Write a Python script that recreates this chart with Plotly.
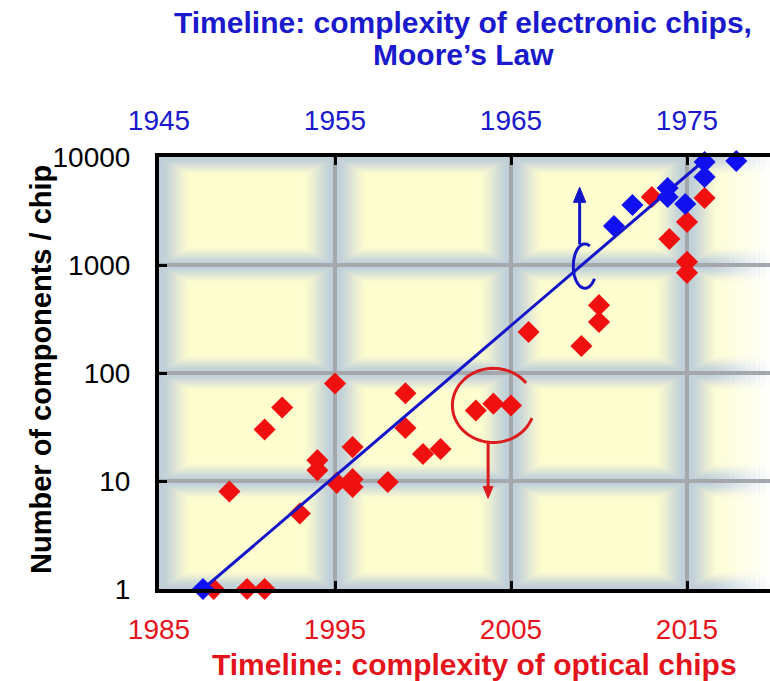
import numpy as np
import plotly.graph_objects as go

# ---------------- data ----------------
# Optical chips (bottom axis, red)
optical_years = [1988.1, 1989.0, 1990.0, 1991.0, 1991.0, 1992.0, 1993.0, 1994.0, 1994.0,
                 1995.0, 1995.1, 1996.0, 1996.0, 1996.0, 1998.0, 1999.0, 1999.0, 2000.0,
                 2001.0, 2003.0, 2004.0, 2005.0, 2006.0, 2009.0, 2010.0, 2010.0, 2013.0,
                 2014.0, 2015.0, 2015.0, 2015.0, 2016.0]
optical_values = [1, 8, 1, 1, 30, 48, 5, 15.6, 12.6,
                  80, 9.6, 20.6, 10.4, 8.8, 9.8, 65, 31, 17.8,
                  19.8, 45, 52, 50, 240, 178, 425, 297, 4260,
                  1740, 2500, 1070, 846, 4170]

# Electronic chips (top axis, blue)
electronic_years = [1947.5, 1970.85, 1971.9, 1973.9, 1973.9, 1974.9, 1976.0, 1976.0, 1977.8]
electronic_values = [1, 2300, 3590, 5160, 4260, 3670, 8990, 6530, 9180]

# Moore's law trend line (top axis)
moore_years = [1947.5, 1976.2]
moore_values = [1, 10000]

optical_ticks = [1985, 1995, 2005, 2015]
electronic_ticks = [1945, 1955, 1965, 1975]
y_ticks = [1, 10, 100, 1000, 10000]
y_ticktext = ["1", "10", "100", "1000", "10000"]

# ---------------- layout constants ----------------
W, H = 770, 681
ML, MR, MT, MB = 159, 0, 157, 92
PW, PH = W - ML - MR, H - MT - MB
X_RANGE = [1985, 1985 + PW / 17.6]
X2_RANGE = [X_RANGE[0] - 40, X_RANGE[1] - 40]
Y_DEC = 4.0

RED = "#f01010"
RED_TXT = "#e3141c"
BLUE = "#1010f0"
BLUE_LINE = "#1414c8"
BLUE_TXT = "#1a1acc"
FONT = "Liberation Sans, Arial, sans-serif"


def px2paper(px, py):
    return (px - ML) / PW, 1 - (py - MT) / PH


def lp(dec):
    """decade (log10 value) -> paper y"""
    return dec / Y_DEC


fig = go.Figure()

fig.add_trace(go.Scatter(x=optical_years, y=optical_values, mode="markers",
                         marker=dict(symbol="diamond", size=17, color=RED),
                         xaxis="x", yaxis="y", cliponaxis=False, showlegend=False))
fig.add_trace(go.Scatter(x=moore_years, y=moore_values, mode="lines",
                         line=dict(color=BLUE_LINE, width=3),
                         xaxis="x2", yaxis="y", showlegend=False))
fig.add_trace(go.Scatter(x=electronic_years, y=electronic_values, mode="markers",
                         marker=dict(symbol="diamond", size=17, color=BLUE),
                         xaxis="x2", yaxis="y", cliponaxis=False, showlegend=False))

shapes = []

# ---- glowing cell background ----
EDGE = np.array([192, 207, 218])
CENTER = np.array([253, 253, 208])
cols = [1985, 1995, 2005, 2015, 2025]
rows = [0, 1, 2, 3, 4]
N = 14
IX = 1.8    # years
IY = 0.17   # decades
for ci in range(len(cols) - 1):
    for ri in range(len(rows) - 1):
        x0, x1 = cols[ci], cols[ci + 1]
        r0, r1 = rows[ri], rows[ri + 1]
        for k in range(N):
            t = k / (N - 1)
            s = t * t * (3 - 2 * t)
            c = EDGE + (CENTER - EDGE) * s
            shapes.append(dict(type="rect", xref="x", yref="paper",
                               x0=x0 + t * IX, x1=x1 - t * IX,
                               y0=lp(r0 + t * IY), y1=lp(r1 - t * IY),
                               fillcolor="rgb(%d,%d,%d)" % tuple(c.astype(int)),
                               line=dict(width=0), layer="below"))

# ---- fade to white at the right edge ----
FADE_START = 2016.2
NF = 12
for k in range(NF):
    xa = FADE_START + (X_RANGE[1] - FADE_START) * k / NF
    xb = FADE_START + (X_RANGE[1] - FADE_START) * (k + 1) / NF
    op = 0.92 * ((k + 1) / NF) ** 1.1
    shapes.append(dict(type="rect", xref="x", yref="paper", x0=xa, x1=xb, y0=0, y1=1,
                       fillcolor="rgba(255,255,255,%.3f)" % op, line=dict(width=0),
                       layer="between"))


# ---- annotation arcs and arrows ----
def arc_path(cx, cdec, rx, rdec, a0, a1, n=60):
    angs = np.radians(np.linspace(a0, a1, n))
    pts = ["%s%.4f,%.5f" % ("M" if i == 0 else "L", cx + rx * np.cos(a), lp(cdec - rdec * np.sin(a)))
           for i, a in enumerate(angs)]
    return " ".join(pts)


RED_ARC = "#dc1c1c"
# red "C" (optical)
shapes.append(dict(type="path", xref="x", yref="paper",
                   path=arc_path(2004.0, 1.70, 2.33, 0.343, 20, 323, 90),
                   line=dict(color=RED_ARC, width=3), layer="above"))
shapes.append(dict(type="line", xref="x", yref="paper", x0=2003.7, x1=2003.7,
                   y0=lp(1.36), y1=lp(0.93), line=dict(color=RED_ARC, width=3), layer="above"))
shapes.append(dict(type="path", xref="x", yref="paper",
                   path="M%.3f,%.5f L%.3f,%.5f L%.3f,%.5f Z" % (2003.42, lp(0.95), 2003.98, lp(0.95), 2003.7, lp(0.84)),
                   fillcolor=RED_ARC, line=dict(color=RED_ARC, width=1), layer="above"))

# blue "C" (electronic)
shapes.append(dict(type="path", xref="x", yref="paper",
                   path=arc_path(2009.2, 2.99, 0.66, 0.205, 35, 295, 60),
                   line=dict(color=BLUE_LINE, width=3), layer="above"))
shapes.append(dict(type="line", xref="x", yref="paper", x0=2008.9, x1=2008.9,
                   y0=lp(3.19), y1=lp(3.60), line=dict(color=BLUE_LINE, width=3), layer="above"))
shapes.append(dict(type="path", xref="x", yref="paper",
                   path="M%.3f,%.5f L%.3f,%.5f L%.3f,%.5f Z" % (2008.55, lp(3.58), 2009.25, lp(3.58), 2008.9, lp(3.72)),
                   fillcolor=BLUE_LINE, line=dict(color=BLUE_LINE, width=1), layer="above"))

# ---- titles ----
annotations = []
tx, ty = px2paper(463, 22)
annotations.append(dict(text="Timeline: complexity of electronic chips,", x=tx, y=ty, xref="paper", yref="paper",
                        showarrow=False, xanchor="center", yanchor="middle",
                        font=dict(family=FONT, size=30, color=BLUE_TXT, weight="bold")))
tx, ty = px2paper(463, 55)
annotations.append(dict(text="Moore’s Law", x=tx, y=ty, xref="paper", yref="paper",
                        showarrow=False, xanchor="center", yanchor="middle",
                        font=dict(family=FONT, size=30, color=BLUE_TXT, weight="bold")))
tx, ty = px2paper(474, 664)
annotations.append(dict(text="Timeline: complexity of optical chips", x=tx, y=ty, xref="paper", yref="paper",
                        showarrow=False, xanchor="center", yanchor="middle",
                        font=dict(family=FONT, size=30, color=RED_TXT, weight="bold")))
tx, ty = px2paper(41, 370)
annotations.append(dict(text="Number of components / chip", x=tx, y=ty, xref="paper", yref="paper",
                        showarrow=False, xanchor="center", yanchor="middle", textangle=-90,
                        font=dict(family=FONT, size=29, color="black", weight="bold")))

axis_common = dict(showline=True, linecolor="black", linewidth=4, ticks="inside", ticklen=8,
                   tickwidth=3, tickcolor="black", zeroline=False)

fig.update_layout(
    width=W, height=H,
    margin=dict(l=ML, r=MR, t=MT, b=MB, pad=0),
    paper_bgcolor="white", plot_bgcolor="white",
    showlegend=False,
    shapes=shapes, annotations=annotations,
    xaxis=dict(range=X_RANGE, tickvals=optical_ticks, ticktext=[str(v) for v in optical_ticks],
               showgrid=True, gridcolor="#a4a7ab", gridwidth=4, side="bottom", anchor="y",
               tickfont=dict(family=FONT, size=28, color=RED_TXT), ticklabelstandoff=12,
               **axis_common),
    xaxis2=dict(range=X2_RANGE, tickvals=electronic_ticks, ticktext=[str(v) for v in electronic_ticks],
                overlaying="x", side="top", anchor="y", showgrid=False,
                tickfont=dict(family=FONT, size=28, color=BLUE_TXT), ticklabelstandoff=12,
                **axis_common),
    yaxis=dict(type="log", range=[0, Y_DEC], tickvals=y_ticks, ticktext=y_ticktext,
               showgrid=True, gridcolor="#a4a7ab", gridwidth=4,
               tickfont=dict(family=FONT, size=28, color="black"), ticklabelstandoff=19,
               **axis_common),
)

fig.write_html("out.html")
